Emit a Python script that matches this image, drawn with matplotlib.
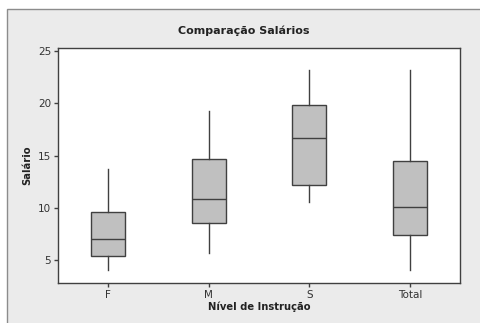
import matplotlib
matplotlib.use("Agg")
import matplotlib.pyplot as plt
from matplotlib.patches import Rectangle

categories = ["F", "M", "S", "Total"]
whislo = [4.05, 5.7, 10.6, 4.05]
q1 = [5.4, 8.5, 12.2, 7.4]
med = [7.05, 10.85, 16.65, 10.1]
q3 = [9.6, 14.65, 19.85, 14.45]
whishi = [13.75, 19.3, 23.2, 23.2]
yticks = [5, 10, 15, 20, 25]

plt.rcParams['font.family'] = ['DejaVu Sans']
fig = plt.figure(figsize=(4.8, 3.23), dpi=100)
fig.patch.set_facecolor("white")
panel = Rectangle((7/480, -0.1), 1.2, (323-9)/323 + 0.1, transform=fig.transFigure,
                  facecolor="#ebebeb", edgecolor="#8c8c8c", linewidth=1.0, zorder=-10)
fig.patches.append(panel)

ax = fig.add_axes([58/480, (323-283)/323, 402/480, (283-48)/323])
ax.set_zorder(1)
ax.set_facecolor("white")

stats = []
for i, c in enumerate(categories):
    stats.append(dict(label=c, whislo=whislo[i], q1=q1[i], med=med[i], q3=q3[i],
                      whishi=whishi[i], fliers=[]))
ax.bxp(stats, positions=range(1, len(categories) + 1), widths=0.34, showcaps=False,
       showfliers=False, patch_artist=True,
       boxprops=dict(facecolor="#c0c0c0", edgecolor="#404040", linewidth=1.0),
       medianprops=dict(color="#404040", linewidth=1.0),
       whiskerprops=dict(color="#404040", linewidth=1.0))

ax.set_xlim(0.5, 4.5)
ax.set_ylim(2.8, 25.3)
ax.set_yticks(yticks)
ax.set_xticks(range(1, len(categories) + 1))
ax.set_xticklabels(categories)
for s in ax.spines.values():
    s.set_color("#404040")
    s.set_linewidth(1.0)
ax.tick_params(direction="out", length=3, width=1, color="#404040",
               labelsize=7.5, labelcolor="#333333", pad=2)

fig.text(243.5/480, 1 - 31/323, "Comparação Salários", fontsize=8, fontweight="bold",
         color="#222222", ha="center", va="center")
ax.set_xlabel("Nível de Instrução", fontsize=7.2, fontweight="bold", color="#222222", labelpad=1)
ax.set_ylabel("Salário", fontsize=7.2, fontweight="bold", color="#222222", labelpad=4)

fig.savefig("out.png", dpi=100, facecolor=fig.get_facecolor())
